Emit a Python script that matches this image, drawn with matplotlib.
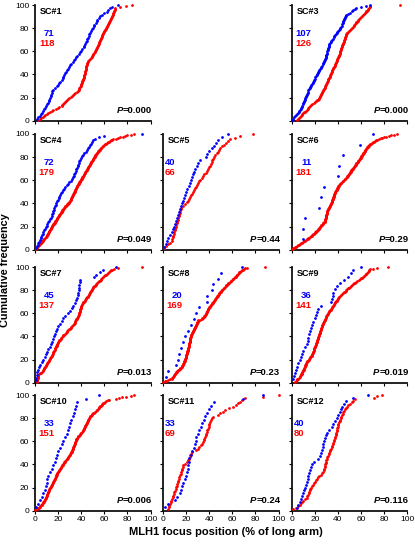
import matplotlib
matplotlib.use("Agg")
import matplotlib.pyplot as plt
import numpy as np

plt.rcParams['font.family'] = ['Liberation Sans', 'DejaVu Sans']

BLUE = "#0000FF"
RED = "#FF0000"

panel_names = ["SC#1", "SC#3", "SC#4", "SC#5", "SC#6", "SC#7",
               "SC#8", "SC#9", "SC#10", "SC#11", "SC#12"]
p_values = ["0.000", "0.000", "0.049", "0.44", "0.29", "0.013",
            "0.23", "0.019", "0.006", "0.24", "0.116"]
n_blue = [71, 107, 72, 40, 11, 45, 20, 36, 33, 33, 40]
n_red = [118, 126, 179, 66, 181, 137, 169, 141, 151, 69, 80]

# MLH1 focus positions (% of long arm)
sc1_blue = [2, 3, 4, 5, 6, 7, 8, 9, 9.5, 10, 11, 12, 12.5, 13, 13.5, 14, 14.5, 15, 16, 17.5,
            19, 20, 21, 22, 23, 24, 24.6, 25.5, 26, 27, 28, 29, 29.5, 30.4, 31.5, 32.5, 33.5,
            34.5, 35.5, 36.5, 37.7, 38.7, 40, 41, 42, 42.6, 43.3, 44, 44.6, 45.2, 45.8, 46.4,
            47, 48, 48.5, 49.3, 50, 50.7, 51.5, 52.5, 53.3, 54, 55, 56.5, 58, 60, 62, 63.5, 65,
            66.7, 72]
sc1_red = [3, 4, 5.5, 7, 8, 9, 10, 11.5, 13, 14.5, 16, 18, 19.5, 21, 23, 23.8, 24.5, 25.2, 26,
           26.8, 27.5, 28.6, 29.7, 30.8, 31.9, 33, 34, 35, 36, 36.8, 37.7, 38.1, 38.5, 39, 39.4,
           39.8, 40.2, 40.6, 40.8, 41.1, 41.3, 41.6, 41.8, 42, 42.3, 42.5, 42.8, 43, 43.3, 43.5,
           43.7, 43.8, 44, 44.2, 44.3, 44.5, 44.7, 44.8, 45, 45.7, 46.3, 47, 47.7, 48.3, 49,
           49.5, 50, 50.5, 51, 51.6, 52.1, 52.6, 53.1, 53.6, 54, 54.3, 54.7, 55.1, 55.4, 55.8,
           56.2, 56.5, 56.9, 57.3, 57.6, 58, 58.4, 58.8, 59.2, 59.6, 60, 60.4, 60.8, 61.2, 61.6,
           62, 62.5, 62.9, 63.4, 63.9, 64.3, 64.8, 65.3, 65.8, 66.2, 66.7, 67, 67.3, 67.6, 67.9,
           68.3, 68.6, 68.9, 69.2, 69.5, 74, 79, 84]
sc3_blue = [0.5, 1.4, 2.3, 3.2, 4, 4.9, 5.8, 6.3, 6.7, 7.2, 7.7, 8.1, 8.6, 9.1, 9.5, 10, 10.4,
            10.7, 11.1, 11.5, 11.8, 12.2, 12.6, 12.9, 13.3, 13.7, 14, 14.4, 14.9, 15.5, 16, 16.5,
            17.1, 17.6, 18.2, 18.7, 19.2, 19.7, 20.2, 20.6, 21.1, 21.6, 22.1, 22.6, 23.1, 23.5,
            24, 24.5, 25, 25.6, 26.1, 26.7, 27.2, 27.7, 28.3, 28.8, 29.1, 29.3, 29.6, 29.8, 30.1,
            30.4, 30.6, 30.9, 31.2, 31.4, 31.7, 31.9, 32.2, 32.5, 32.7, 33, 33.7, 34.3, 35, 35.7,
            36.3, 37, 37.7, 38.3, 39, 39.6, 40.2, 40.8, 41.4, 42, 42.6, 43.2, 43.6, 44, 44.3,
            44.7, 45.1, 45.5, 45.9, 46.2, 46.6, 47, 48.7, 50.4, 51.8, 53.2, 54.6, 56, 60, 64, 68]
sc3_red = [4.3, 5.2, 6, 6.9, 7.7, 8.6, 9.3, 10, 10.8, 11.5, 12.2, 13, 13.7, 14.4, 15.2, 15.9,
           16.9, 17.9, 18.9, 19.9, 21, 22, 23, 23.4, 23.8, 24.2, 24.7, 25.1, 25.5, 25.9, 26.3,
           26.7, 27.1, 27.6, 28, 28.4, 28.8, 29.2, 29.5, 29.9, 30.2, 30.6, 31, 31.3, 31.7, 32,
           32.4, 32.8, 33.1, 33.5, 33.9, 34.2, 34.6, 35, 35.3, 35.7, 36, 36.4, 36.7, 37.1, 37.5,
           37.8, 38.2, 38.5, 38.9, 39.2, 39.6, 40, 40.3, 40.6, 40.9, 41.1, 41.4, 41.7, 42, 42.2,
           42.5, 42.8, 43.1, 43.3, 43.6, 43.9, 44.2, 44.4, 44.7, 45, 45.3, 45.5, 45.8, 46.1,
           46.4, 46.6, 46.9, 47.2, 47.5, 48.3, 49.1, 49.9, 50.6, 51.4, 52.2, 53, 53.6, 54.2,
           54.8, 55.4, 56, 56.6, 57.2, 57.8, 58.4, 59, 59.9, 60.8, 61.6, 62.5, 63.4, 64, 64.5,
           65.1, 65.7, 66.3, 66.8, 67.4, 68, 94]
sc4_blue = [1, 1.7, 2.3, 3, 3.6, 4.3, 4.9, 5.5, 6, 6.6, 7.2, 7.9, 8.6, 9.4, 10.1, 10.8, 11.5,
            12.2, 13, 13.7, 14.4, 14.9, 15.4, 15.9, 16.3, 16.8, 17.3, 17.9, 18.5, 19.1, 19.8,
            20.4, 21, 21.6, 22.6, 23.5, 24.5, 25.5, 26.4, 27.4, 28.5, 29.6, 30.8, 31.9, 33,
            33.5, 34.1, 34.6, 35.2, 35.7, 36.3, 36.8, 37.4, 37.9, 38.5, 39, 40, 40.9, 41.9, 42.8,
            43.8, 44.7, 45.7, 46.6, 47.6, 48.5, 49.5, 50.4, 52, 55, 60, 93]
sc4_red = [0.5, 1, 1.4, 1.9, 2.4, 2.9, 3.4, 3.8, 4.3, 4.8, 5.2, 5.7, 6.2, 6.7, 7.2, 7.6, 8.1,
           8.6, 9.1, 9.5, 10, 10.3, 10.6, 10.9, 11.3, 11.6, 11.9, 12.2, 12.5, 12.8, 13.1, 13.5,
           13.8, 14.1, 14.4, 14.8, 15.1, 15.5, 15.8, 16.2, 16.6, 16.9, 17.3, 17.6, 18, 18.3,
           18.7, 19.1, 19.4, 19.8, 20.1, 20.5, 20.9, 21.2, 21.6, 21.9, 22.3, 22.7, 23, 23.4,
           23.7, 24.1, 24.5, 25, 25.5, 25.9, 26.4, 26.9, 27.4, 27.9, 28.4, 28.9, 29.3, 29.8,
           30.3, 30.6, 30.8, 31.1, 31.3, 31.6, 31.9, 32.1, 32.4, 32.6, 32.9, 33.1, 33.4, 33.7,
           33.9, 34.2, 34.4, 34.7, 35, 35.2, 35.5, 35.7, 36, 36.3, 36.7, 37, 37.3, 37.7, 38,
           38.3, 38.7, 39, 39.3, 39.7, 40, 40.3, 40.7, 41, 41.3, 41.7, 42, 42.3, 42.6, 43, 43.3,
           43.6, 43.9, 44.3, 44.6, 44.9, 45.2, 45.6, 45.9, 46.2, 46.5, 46.9, 47.2, 47.5, 47.8,
           48.2, 48.5, 48.9, 49.2, 49.6, 49.9, 50.3, 50.6, 50.9, 51.3, 51.6, 52, 52.3, 52.7, 53,
           53.5, 53.9, 54.4, 54.8, 55.3, 55.7, 56.2, 56.6, 57.1, 57.5, 58, 58.5, 59, 59.9, 60.7,
           61.6, 62.5, 63.4, 64.2, 65.1, 66, 66.8, 67.7, 70, 72, 74, 76, 78, 80, 83, 86]
sc5_blue = [1.2, 2.2, 3.2, 4.6, 6, 7.5, 8.5, 9.4, 10.4, 11.3, 12.1, 13, 13.9, 14.7, 15.6, 16.4,
            17.3, 18.1, 19, 20.1, 21.1, 22.2, 23.3, 24.2, 25.1, 25.9, 26.8, 27.7, 29.1, 30.6, 32,
            37, 38.5, 40.2, 42, 44, 46, 47.8, 51, 56.5]
sc5_red = [1, 2.8, 4.6, 6, 7.5, 7.9, 8.3, 8.7, 9.2, 9.6, 10, 10.4, 10.9, 11.4, 11.9, 12.3, 12.8,
           13.3, 13.8, 14.2, 14.7, 15.1, 15.6, 16, 17.5, 19, 20.5, 22, 22.8, 23.6, 24.4, 25.3,
           26.1, 26.9, 27.7, 28.6, 29.6, 30.5, 31.5, 32.4, 33.4, 34.5, 35.6, 36.8, 37.9, 39,
           39.8, 40.5, 41.3, 42, 42.8, 43.5, 44.5, 45.4, 46.4, 47.4, 48.3, 49.3, 51, 52.8, 54.5,
           56.3, 58, 62, 66.6, 78]
sc6_blue = [9.5, 10, 11.5, 24, 25.4, 28, 39.8, 40.6, 44.7, 59, 70.6]
sc6_red = [0.5, 1.4, 2.2, 3, 3.9, 4.7, 5.5, 6.4, 7.2, 8, 8.9, 9.7, 10.5, 11.3, 12.2, 13, 13.7,
           14.4, 15.1, 15.9, 16.6, 17.3, 18, 18.7, 19.2, 19.8, 20.3, 20.8, 21.3, 21.9, 22.4,
           22.9, 23.4, 24, 24.5, 24.9, 25.4, 25.8, 26.2, 26.7, 27.1, 27.5, 27.9, 28.4, 28.8,
           28.9, 29.1, 29.2, 29.3, 29.4, 29.6, 29.7, 29.8, 30, 30.1, 30.2, 30.3, 30.5, 30.6,
           30.7, 30.8, 31.1, 31.4, 31.7, 32, 32.3, 32.6, 32.9, 33.1, 33.4, 33.7, 34, 34.3, 34.6,
           34.8, 35, 35.1, 35.3, 35.5, 35.7, 35.9, 36.1, 36.2, 36.4, 36.6, 36.8, 37, 37.1, 37.3,
           37.5, 37.8, 38.2, 38.5, 38.8, 39.2, 39.5, 39.8, 40.1, 40.5, 40.8, 41.1, 41.5, 41.8,
           42.4, 42.9, 43.5, 44.1, 44.7, 45.2, 45.8, 46.4, 46.9, 47.5, 47.9, 48.3, 48.7, 49,
           49.4, 49.8, 50.2, 50.6, 51, 51.4, 51.7, 52.1, 52.5, 52.9, 53.3, 53.7, 54.1, 54.5,
           54.9, 55.3, 55.7, 56.1, 56.6, 57, 57.4, 57.8, 58.2, 58.6, 59, 59.3, 59.7, 60, 60.4,
           60.7, 61, 61.4, 61.7, 62.1, 62.4, 62.7, 63.1, 63.4, 63.8, 64.3, 64.7, 65.1, 65.6, 66,
           66.4, 66.8, 67.3, 67.7, 68.5, 69.3, 70.1, 71, 72, 73, 74, 75.5, 77, 78.5, 80, 82, 84,
           86, 88.5, 91]
sc7_blue = [0.8, 1.2, 1.6, 2, 2.8, 3.5, 4.3, 5.8, 7.2, 8.3, 9.4, 10.4, 11.5, 12.6, 13.8, 14.9,
            16, 16.8, 17.6, 18.4, 19.2, 20, 21.5, 23, 24.5, 26.4, 28.4, 30.3, 31.7, 33.2, 34.6,
            35.3, 36.1, 36.8, 37.5, 37.8, 38.1, 38.4, 38.7, 39, 51.5, 53, 56, 58.5, 70.5]
sc7_red = [1.4, 1.6, 1.8, 2, 2.2, 2.4, 2.6, 2.8, 3, 3.7, 4.4, 5.1, 5.8, 6.5, 7.2, 7.6, 8.1, 8.5,
           8.9, 9.4, 9.8, 10.2, 10.6, 11.1, 11.5, 11.9, 12.3, 12.7, 13.1, 13.5, 13.9, 14.4, 14.8,
           15.2, 15.6, 16, 16.3, 16.7, 17, 17.3, 17.7, 18, 18.3, 18.7, 19, 19.3, 19.7, 20, 20.6,
           21.1, 21.7, 22.3, 22.8, 23.4, 23.9, 24.5, 25.2, 25.9, 26.7, 27.4, 28.1, 28.8, 29.5,
           30.2, 30.9, 31.6, 32.3, 33, 33.4, 33.8, 34.2, 34.6, 35, 35.5, 35.9, 36.3, 36.7, 37.1,
           37.5, 37.7, 37.9, 38.1, 38.4, 38.6, 38.8, 39, 39.2, 39.4, 39.6, 39.9, 40.1, 40.3,
           40.8, 41.3, 41.9, 42.4, 42.9, 43.4, 43.9, 44.4, 45, 45.5, 46, 46.4, 46.9, 47.3, 47.8,
           48.2, 48.6, 49.1, 49.5, 50, 50.4, 51.1, 51.8, 52.5, 53.2, 53.9, 54.6, 55.3, 56, 56.8,
           57.5, 58.3, 59, 59.8, 60.5, 61.3, 62, 63, 64, 65, 66, 67, 68, 72, 93]
sc8_blue = [2.6, 4.6, 11.5, 12.7, 14, 15.3, 17, 19, 22, 24.5, 26.5, 28.5, 31, 38.3, 38.5, 42.5,
            43.5, 47.3, 50, 68]
sc8_red = [0.3, 1.5, 2.8, 4, 5.8, 7.5, 7.9, 8.4, 8.8, 9.2, 9.7, 10.1, 10.5, 10.9, 11.4, 11.8,
           12.4, 13, 13.6, 14.3, 14.9, 15.5, 16.1, 16.4, 16.7, 17, 17.3, 17.6, 17.8, 18.1, 18.4,
           18.7, 19, 19.2, 19.3, 19.5, 19.7, 19.8, 20, 20.2, 20.3, 20.5, 20.7, 20.8, 21, 21.2,
           21.3, 21.5, 21.6, 21.8, 21.9, 22.1, 22.2, 22.4, 22.5, 22.7, 22.8, 22.9, 23, 23.1,
           23.3, 23.4, 23.5, 23.6, 23.7, 23.8, 24, 24.1, 24.2, 24.5, 24.8, 25.1, 25.3, 25.6,
           25.9, 26.2, 26.5, 26.8, 27.1, 27.4, 27.7, 27.9, 28.2, 28.5, 28.8, 29.1, 29.4, 29.7,
           29.9, 30.2, 30.5, 32, 33.4, 34, 34.6, 35.2, 35.7, 36.3, 36.6, 36.9, 37.2, 37.5, 37.8,
           38, 38.3, 38.6, 38.9, 39.2, 39.6, 40.1, 40.5, 40.9, 41.4, 41.8, 42.2, 42.6, 43.1,
           43.5, 43.9, 44.3, 44.7, 45.2, 45.6, 46, 46.4, 46.8, 47.2, 47.6, 48.1, 48.5, 48.9,
           49.3, 49.8, 50.4, 50.9, 51.5, 52, 52.5, 53.1, 53.6, 54.2, 54.9, 55.5, 56.1, 56.7,
           57.4, 58, 58.6, 59.2, 59.8, 60.4, 61, 61.6, 62.2, 62.8, 63.3, 63.9, 64.4, 65, 65.5,
           66.1, 66.6, 67.5, 68.3, 69.2, 70, 70.9, 73, 88]
sc9_blue = [1, 2, 2.8, 3.5, 4.3, 5.8, 7.2, 8.1, 9.1, 10, 11.5, 13, 13.7, 14.5, 15.2, 15.9, 16.8,
            17.8, 18.7, 19.8, 20.9, 22, 23, 25.5, 34, 34.8, 35.4, 36, 37.5, 39.5, 42, 45, 49,
            51.5, 53.3, 59.7]
sc9_red = [2.9, 3.6, 4.3, 5, 5.8, 6.5, 7.2, 7.6, 7.9, 8.3, 8.6, 8.9, 9.3, 9.6, 10, 10.3, 10.6,
           10.9, 11.2, 11.5, 11.8, 12.1, 12.4, 12.7, 13, 13.5, 14.1, 14.6, 15.2, 15.7, 16.2,
           16.8, 17.3, 17.6, 17.8, 18.1, 18.4, 18.7, 18.9, 19.2, 19.5, 19.7, 20, 20.3, 20.5,
           20.8, 21.1, 21.3, 21.6, 21.8, 22.1, 22.3, 22.5, 22.7, 23, 23.2, 23.4, 23.7, 23.9,
           24.1, 24.3, 24.6, 24.8, 25, 25.3, 25.5, 25.8, 26, 26.3, 26.6, 26.9, 27.2, 27.5, 27.8,
           28.1, 28.5, 28.8, 29.1, 29.4, 29.7, 30, 30.3, 30.8, 31.3, 31.7, 32.2, 32.7, 33.1,
           33.6, 34.1, 34.6, 35, 35.5, 36, 36.5, 37, 37.4, 37.9, 38.4, 38.9, 39.4, 39.9, 40.4,
           40.8, 41.3, 41.8, 42.6, 43.4, 44.2, 45, 45.8, 46.6, 47.4, 48.2, 49, 49.9, 50.8, 51.6,
           52.5, 53.4, 54.3, 55.1, 56, 56.9, 57.9, 58.8, 59.7, 60.6, 61.6, 62.5, 63.4, 64, 64.6,
           65.2, 65.9, 66.5, 67.1, 67.7, 70, 73.5, 83.6]
sc10_blue = [1, 3, 4.4, 5.8, 7.2, 8.7, 9.4, 10.1, 10.8, 11.5, 13, 14.5, 16, 16.9, 17.9, 18.8,
             20.2, 21.6, 23, 24.5, 25.9, 27.4, 28.4, 29.3, 30.3, 31.4, 32.5, 33.5, 34.6, 35.3,
             36, 44, 55.6]
sc10_red = [0.3, 1.6, 3, 3.6, 4.1, 4.7, 5.2, 5.8, 6.3, 6.8, 7.2, 7.7, 8.2, 8.7, 8.9, 9.2, 9.5,
            9.7, 10, 10.2, 10.5, 10.7, 11, 11.2, 11.5, 11.8, 12.2, 12.5, 12.9, 13.2, 13.6, 13.9,
            14.3, 14.6, 15, 15.3, 15.7, 16, 16.3, 16.6, 16.9, 17.2, 17.5, 17.8, 18.2, 18.5,
            18.8, 19.1, 19.4, 19.7, 20, 20.5, 20.9, 21.4, 21.8, 22.3, 22.8, 23.2, 23.7, 24.2,
            24.6, 25.1, 25.5, 26, 26.4, 26.9, 27.3, 27.8, 28.2, 28.6, 29.1, 29.5, 30, 30.4, 30.8,
            31.3, 31.7, 32, 32.2, 32.5, 32.7, 33, 33.2, 33.5, 33.7, 34, 34.2, 34.5, 34.7, 35,
            35.2, 35.5, 35.7, 36, 36.5, 37.1, 37.6, 38.1, 38.6, 39.2, 39.7, 40.2, 40.7, 41.3,
            41.8, 42.1, 42.4, 42.8, 43.1, 43.4, 43.7, 44, 44.4, 44.7, 45, 45.3, 45.6, 45.9, 46.3,
            46.6, 46.9, 47.2, 47.5, 48.2, 49, 49.7, 50.4, 51.1, 51.9, 52.6, 53.3, 53.9, 54.6,
            55.2, 55.8, 56.5, 57.1, 57.7, 58.4, 59, 60, 60.9, 61.9, 62.8, 63.8, 69.8, 72.7, 75.6,
            78.5, 82.8, 85.7]
sc11_blue = [1.7, 4.6, 10, 12.5, 14.7, 15.7, 16.6, 17.6, 18.7, 19.9, 21, 21.5, 21.9, 22.4, 22.8,
             24, 25.3, 26.5, 27.7, 28.4, 29, 30.3, 31.5, 32.7, 34, 35.3, 36.5, 37.8, 39.5, 41.2,
             44, 69.5, 87]
sc11_red = [4.6, 5, 5.3, 5.8, 6.5, 7.2, 7.8, 8.4, 9, 9.5, 9.9, 10.4, 10.9, 11.3, 11.8, 12.3,
            12.8, 13.2, 13.7, 14.2, 14.7, 15.2, 15.7, 16.1, 16.6, 17.1, 17.6, 19, 20.5, 22, 22.6,
            23.1, 23.7, 24.2, 24.8, 29, 30.2, 31.3, 32.5, 33.7, 34.9, 35.4, 35.9, 36.4, 37, 37.5,
            38, 38.5, 39, 39.4, 39.8, 40.2, 40.6, 41.6, 42.5, 43.5, 47.8, 49.7, 51.7, 53.6, 57.3,
            61, 62.9, 64.7, 66.6, 68.8, 71, 87, 100]
sc12_blue = [4.3, 5.8, 7.2, 7.9, 8.6, 9.6, 10.5, 11.5, 12.2, 13, 13.7, 14.4, 15.1, 15.9, 16.6,
             17.3, 19.5, 22.5, 24.5, 25.2, 26, 26.7, 27.4, 28.1, 28.9, 29.6, 30.3, 32.5, 34.6,
             36, 37.5, 39, 40.4, 41.8, 42.8, 43.9, 45, 47, 53.3, 65.7]
sc12_red = [1.4, 3.6, 5.8, 6.9, 7.9, 9, 10, 11.5, 13, 13.6, 14.1, 14.7, 15.3, 15.6, 15.9, 16.7,
            17.5, 18.3, 19.2, 20, 20.8, 21.6, 22.8, 23.9, 25.1, 26.2, 27.4, 27.7, 28.1, 28.4,
            28.7, 29, 29.3, 29.7, 30, 30.3, 30.8, 31.4, 31.9, 32.5, 33, 33.5, 34, 34.5, 35, 35.5,
            36, 36.5, 37, 37.5, 37.8, 38.1, 38.3, 38.6, 38.9, 39.2, 39.5, 39.7, 40, 40.3, 40.9,
            41.4, 41.9, 42.5, 43, 43.6, 44.1, 44.7, 45.4, 46.1, 46.8, 47.5, 48.9, 50.3, 51.8,
            53.2, 54.7, 71.2, 73.5, 77.8]

blue_series = [sc1_blue, sc3_blue, sc4_blue, sc5_blue, sc6_blue, sc7_blue,
               sc8_blue, sc9_blue, sc10_blue, sc11_blue, sc12_blue]
red_series = [sc1_red, sc3_red, sc4_red, sc5_red, sc6_red, sc7_red,
              sc8_red, sc9_red, sc10_red, sc11_red, sc12_red]
# (row, col) of each panel; SC#2 slot is left empty
grid_pos = [(0, 0), (0, 2), (1, 0), (1, 1), (1, 2), (2, 0),
            (2, 1), (2, 2), (3, 0), (3, 1), (3, 2)]

W, H = 415, 545
fig = plt.figure(figsize=(W / 100, H / 100), dpi=100)

col_x = [35, 163, 291.7]
row_top = [5, 134, 267, 395]
ax_w, ax_h = 115.5, 115.7


def cum_freq(ax, pos, color):
    pos = np.sort(np.asarray(pos, dtype=float))
    freq = np.arange(1, len(pos) + 1) / len(pos) * 100
    ax.plot(pos, freq, 'o', color=color, ms=2.0, mew=0, clip_on=False, zorder=3)


for k, name in enumerate(panel_names):
    r, c = grid_pos[k]
    ax = fig.add_axes([col_x[c] / W, 1 - (row_top[r] + ax_h) / H, ax_w / W, ax_h / H])
    cum_freq(ax, red_series[k], RED)
    cum_freq(ax, blue_series[k], BLUE)

    ax.set_xlim(0, 100)
    ax.set_ylim(0, 100)
    ax.set_xticks(range(0, 101, 20))
    ax.set_yticks(range(0, 101, 20))
    for s in ['top', 'right']:
        ax.spines[s].set_visible(False)
    for s in ['left', 'bottom']:
        ax.spines[s].set_linewidth(1.3)
        ax.spines[s].set_color('#111111')
    ax.tick_params(direction='out', length=2.5, width=0.8, labelsize=6.0, pad=1.5,
                   labelleft=(c == 0), labelbottom=(r == 3))

    ax.text(4, 94, name, fontsize=6.5, fontweight='bold', ha='left', va='center')
    rx = 17 if max(n_blue[k], n_red[k]) >= 100 else 11
    ax.text(rx, 75.5, str(n_blue[k]), color=BLUE, fontsize=6.8, fontweight='bold',
            ha='right', va='center')
    ax.text(rx, 66.3, str(n_red[k]), color=RED, fontsize=6.8, fontweight='bold',
            ha='right', va='center')
    t = ax.text(101.5, 9.2, '=' + p_values[k], fontsize=6.8, fontweight='bold',
                ha='right', va='center')
    ax.annotate('P', xy=(0, 0), xycoords=t, fontsize=6.8, fontweight='bold',
                fontstyle='italic', ha='right', va='bottom')

fig.text(5 / W, 1 - 270 / H, 'Cumulative frequency', rotation=90, fontsize=7.8,
         fontweight='bold', ha='center', va='center')
fig.text(225.8 / W, 1 - 532 / H, 'MLH1 focus position (% of long arm)', fontsize=8,
         fontweight='bold', ha='center', va='center')

fig.savefig('out.png', dpi=100)
